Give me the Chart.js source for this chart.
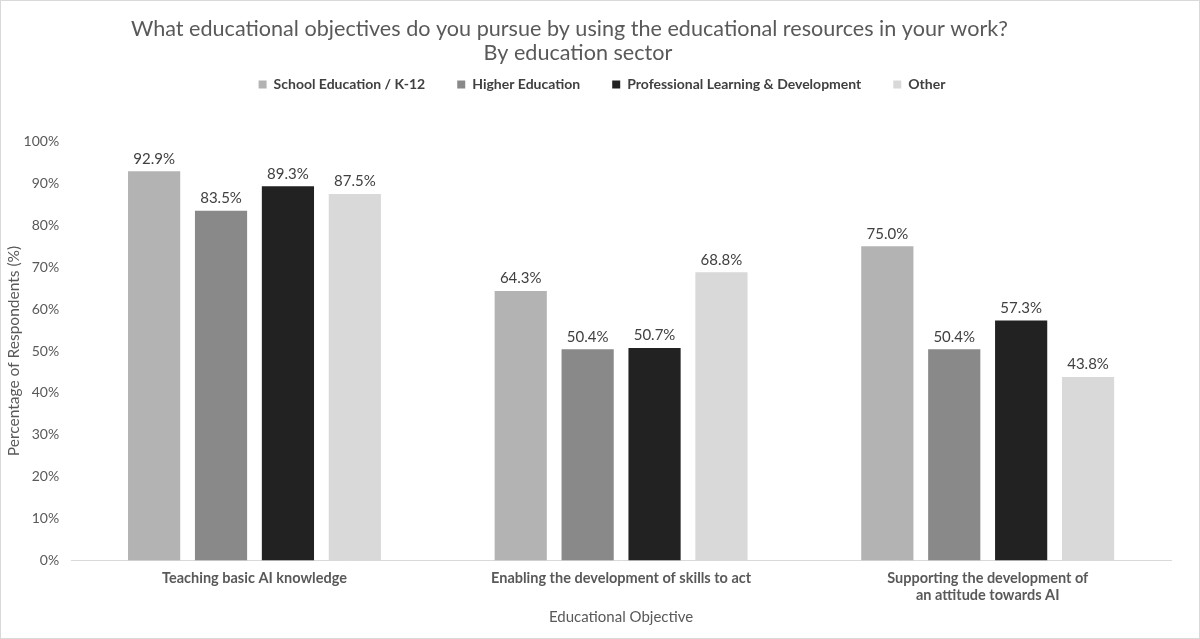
<!DOCTYPE html>
<html><head><meta charset="utf-8">
<script src="https://cdn.jsdelivr.net/npm/chart.js@4"></script>
<style>
html,body{margin:0;padding:0;background:#fff;}
#wrap{width:1198px;height:637px;border:1px solid #d9d9d9;position:relative;}
canvas{display:block;}
</style></head>
<body><div id="wrap"><canvas id="c" width="1198" height="637"></canvas></div>
<script>
const categories = ["Teaching basic AI knowledge", "Enabling the development of skills to act", ["Supporting the development of", "an attitude towards AI"]];
const seriesNames = ["School Education / K-12", "Higher Education", "Professional Learning & Development", "Other"];
const schoolK12 = [92.9, 64.3, 75.0];
const higherEd = [83.5, 50.4, 50.4];
const professional = [89.3, 50.7, 57.3];
const other = [87.5, 68.8, 43.8];
const yTicks = [0,10,20,30,40,50,60,70,80,90,100];
const colors = ["#b3b3b3", "#898989", "#222222", "#d9d9d9"];
const titleLines = ["What educational objectives do you pursue by using the educational resources in your work?\u00a0\u00a0\u00a0\u00a0\u00a0\u00a0", "By education sector\u00a0\u00a0\u00a0"];

const FONT = "Lato, 'Open Sans', sans-serif";
const labelPlugin = {
  id: 'vals',
  afterDatasetsDraw(chart) {
    const ctx = chart.ctx;
    ctx.save();
    ctx.font = "15px " + FONT;
    ctx.fillStyle = "#404040";
    ctx.textAlign = "center";
    ctx.textBaseline = "bottom";
    chart.data.datasets.forEach((ds, i) => {
      chart.getDatasetMeta(i).data.forEach((bar, j) => {
        ctx.fillText(ds.data[j].toFixed(1) + "%", bar.x, bar.y - 5);
      });
    });
    ctx.restore();
  }
};
const legendSpace = {
  id: 'legendSpace',
  beforeInit(chart) {
    const lg = chart.legend;
    const origFit = lg.fit;
    lg.fit = function () { origFit.call(this); this.height += 40; };
    const origDraw = lg.draw;
    lg.draw = function () {
      const ctx = this.ctx;
      ctx.save(); ctx.translate(16, 0);
      origDraw.apply(this, arguments);
      ctx.restore();
    };
  }
};
const series = [schoolK12, higherEd, professional, other];
new Chart(document.getElementById('c'), {
  type: 'bar',
  data: {
    labels: categories,
    datasets: series.map((d, i) => ({
      label: seriesNames[i], data: d, backgroundColor: colors[i],
      categoryPercentage: 0.73, barPercentage: 0.78
    }))
  },
  options: {
    responsive: false, animation: false,
    devicePixelRatio: 1,
    layout: { padding: { left: 0, right: 28, top: 8, bottom: 8 } },
    plugins: {
      title: { display: true, text: titleLines,
        color: "#595959", font: { family: FONT, size: 21.6, weight: 'normal', lineHeight: 1.1 }, padding: { top: 8, bottom: -19 } },
      legend: { position: 'top', labels: { color: "#404040", font: { family: FONT, size: 14, weight: 'bold' },
        boxWidth: 8, boxHeight: 8, padding: 32 } },
      tooltip: { enabled: false }
    },
    scales: {
      y: { min: 0, max: 100, afterBuildTicks: (ax) => { ax.ticks = yTicks.map(v => ({ value: v })); },
        ticks: { color: "#595959", font: { family: FONT, size: 14 }, callback: v => v + "%", padding: 12 },
        grid: { display: false, drawTicks: false }, border: { display: false },
        title: { display: true, text: "Percentage of Respondents (%)", color: "#595959", font: { family: FONT, size: 15.5 }, padding: { top: 4, bottom: -12 } } },
      x: { ticks: { color: "#595959", font: { family: FONT, size: 14.5, weight: 'bold', lineHeight: 1.12 }, maxRotation: 0, padding: 10 },
        grid: { display: false, drawTicks: false }, border: { display: true, color: "#d9d9d9", width: 1 },
        title: { display: true, text: "Educational Objective", color: "#595959", font: { family: FONT, size: 15 }, padding: { top: -5, bottom: 4 } } }
    }
  },
  plugins: [labelPlugin, legendSpace]
});
</script></body></html>
